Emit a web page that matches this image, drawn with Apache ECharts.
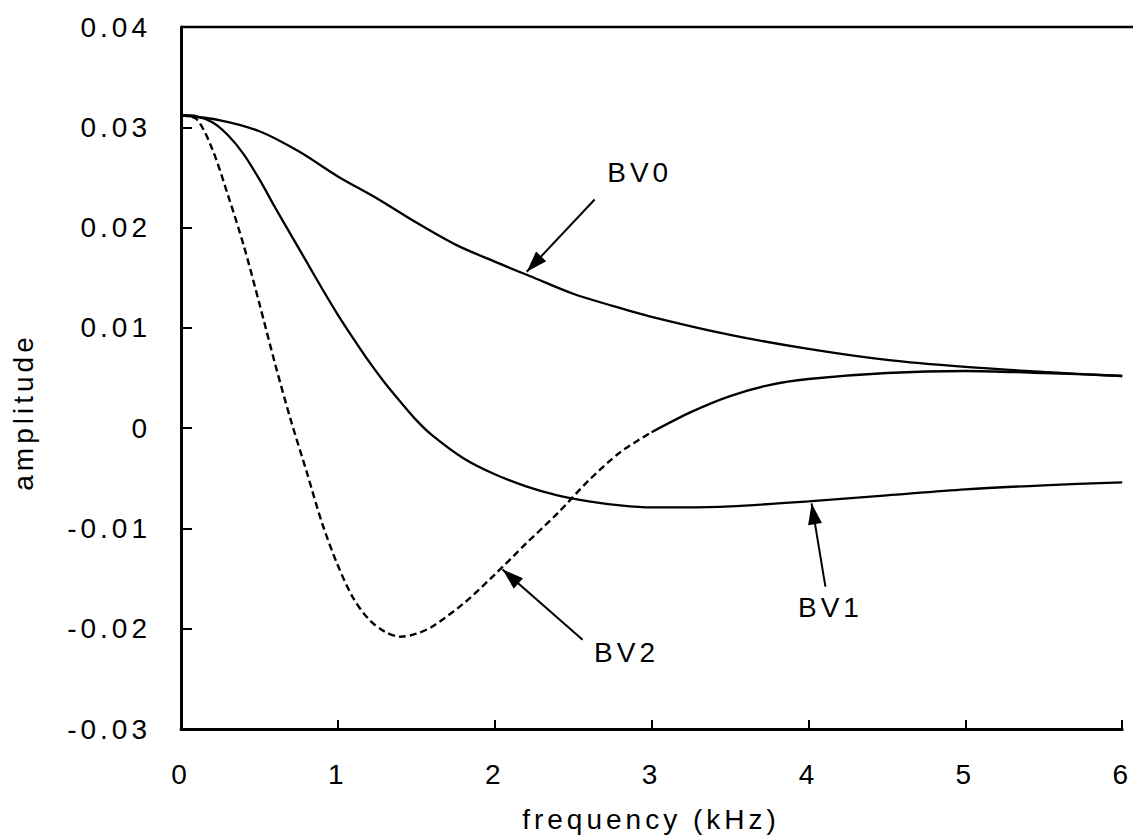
<!DOCTYPE html>
<html>
<head>
<meta charset="utf-8">
<script src="https://cdn.jsdelivr.net/npm/echarts@6/dist/echarts.min.js"></script>
<style>html,body{margin:0;padding:0;background:#fff}#c{width:1133px;height:840px}#c text{letter-spacing:4px}</style>
</head>
<body>
<div id="c"></div>
<script>
// frequency (kHz), amplitude pairs
const bv0 = [[0,0.0312],[0.25,0.0307],[0.5,0.0296],[0.75,0.0276],[1.0,0.0251],[1.25,0.0229],[1.5,0.0205],[1.75,0.0183],[2.0,0.0166],[2.25,0.0150],[2.5,0.0134],[2.75,0.0122],[3.0,0.0111],[3.5,0.0093],[4.0,0.0079],[4.5,0.0068],[5.0,0.0061],[5.5,0.0056],[6.0,0.0052]];
const bv1 = [[0,0.0312],[0.1,0.0311],[0.2,0.0305],[0.3,0.0292],[0.4,0.0273],[0.5,0.0248],[0.6,0.0220],[0.7,0.0193],[0.8,0.0166],[0.9,0.0139],[1.0,0.0113],[1.1,0.0089],[1.2,0.0066],[1.3,0.0045],[1.4,0.0026],[1.5,0.0008],[1.6,-0.0007],[1.8,-0.0030],[2.0,-0.0046],[2.2,-0.0058],[2.4,-0.0067],[2.6,-0.0073],[2.8,-0.0077],[3.0,-0.0079],[3.2,-0.0079],[3.5,-0.0078],[4.0,-0.0073],[4.5,-0.0067],[5.0,-0.0061],[5.5,-0.0057],[6.0,-0.0054]];
const bv2 = [[0,0.0312],[0.1,0.0308],[0.2,0.0278],[0.3,0.0232],[0.4,0.0182],[0.5,0.0124],[0.6,0.0064],[0.7,0.0008],[0.8,-0.0043],[0.9,-0.0095],[1.0,-0.0137],[1.1,-0.0170],[1.2,-0.0191],[1.3,-0.0203],[1.4,-0.0208],[1.5,-0.0205],[1.6,-0.0198],[1.8,-0.0175],[2.0,-0.0146],[2.2,-0.0115],[2.4,-0.0085],[2.6,-0.0052],[2.8,-0.0024],[3.0,-0.0004],[3.25,0.0016],[3.5,0.0032],[3.75,0.0043],[4.0,0.0049],[4.5,0.0055],[5.0,0.0057],[5.5,0.0055],[6.0,0.0052]];
const xTicks = [0,1,2,3,4,5,6];
const yTicks = [-0.03,-0.02,-0.01,0,0.01,0.02,0.03,0.04];
const seriesNames = ['BV0','BV1','BV2'];
// annotation arrows: [from, to] and label anchor, in data units
const arrowBV0 = [[2.637,0.0228],[2.204,0.0156]];
const arrowBV1 = [[4.108,-0.0158],[4.02,-0.0075]];
const arrowBV2 = [[2.56,-0.0211],[2.05,-0.0141]];
const labelBV0 = [2.924,0.0255];
const labelBV1 = [4.14,-0.0179];
const labelBV2 = [2.84,-0.0224];

const FONT = 'Liberation Sans, Arial, sans-serif';
const FS = 28;
const chart = echarts.init(document.getElementById('c'), null, {renderer:'svg'});

function arrow(a){
  return {
    silent:true, animation:false,
    symbol:['none','path://M0,0L7,20L-7,20Z'], symbolSize:[14,21],
    symbolOffset:[[0,0],[0,10.5]],
    lineStyle:{color:'#000',width:2,type:'solid'},
    itemStyle:{color:'#000'},
    label:{show:false},
    data:[[{coord:a[0]},{coord:a[1]}]]
  };
}
function tag(pos,text){
  return {
    silent:true, animation:false,
    symbol:'circle', symbolSize:0,
    label:{show:true,position:'inside',formatter:text,color:'#000',fontSize:FS,fontFamily:FONT},
    data:[{coord:pos}]
  };
}
const splitAt = 3.0;
const bv2Dash = bv2.filter(p=>p[0]<=splitAt);
const bv2Solid = bv2.filter(p=>p[0]>=splitAt);

chart.setOption({
  animation:false,
  backgroundColor:'#fff',
  grid:{left:181,right:10,top:27,bottom:111},
  xAxis:{
    type:'value',min:0,max:6,interval:1,
    axisLine:{show:true,onZero:false,lineStyle:{color:'#000',width:3}},
    axisTick:{show:true,inside:true,length:9,lineStyle:{color:'#000',width:2}},
    splitLine:{show:false},
    axisLabel:{color:'#000',fontSize:FS,fontFamily:FONT,margin:31,
      formatter:v=>xTicks.includes(v)?String(v):''}
  },
  yAxis:{
    type:'value',min:-0.03,max:0.04,interval:0.01,
    axisLine:{show:true,onZero:false,lineStyle:{color:'#000',width:3}},
    axisTick:{show:true,inside:true,length:11,lineStyle:{color:'#000',width:2}},
    splitLine:{show:false},
    axisLabel:{color:'#000',fontSize:FS,fontFamily:FONT,margin:30,
      formatter:v=>{const r=Math.round(v*100)/100; return r===0?'0':r.toFixed(2);}}
  },
  graphic:[
    {type:'line',shape:{x1:181,y1:27,x2:1133,y2:27},style:{stroke:'#000',lineWidth:2.5},silent:true},
    {type:'text',x:23,y:412,rotation:Math.PI/2,
      style:{text:'amplitude',fill:'#000',font:FS+'px '+FONT,align:'center',verticalAlign:'middle'}},
    {type:'text',x:651,y:819,
      style:{text:'frequency (kHz)',fill:'#000',font:FS+'px '+FONT,align:'center',verticalAlign:'middle'}}
  ],
  series:[
    {name:seriesNames[0],type:'line',data:bv0,smooth:0.3,showSymbol:false,
      lineStyle:{color:'#000',width:2.3},markLine:arrow(arrowBV0),markPoint:tag(labelBV0,seriesNames[0])},
    {name:seriesNames[1],type:'line',data:bv1,smooth:0.3,showSymbol:false,
      lineStyle:{color:'#000',width:2.3},markLine:arrow(arrowBV1),markPoint:tag(labelBV1,seriesNames[1])},
    {name:seriesNames[2],type:'line',data:bv2Dash,smooth:0.3,showSymbol:false,
      lineStyle:{color:'#000',width:2.4,type:[7,4]},markLine:arrow(arrowBV2),markPoint:tag(labelBV2,seriesNames[2])},
    {name:seriesNames[2]+' ',type:'line',data:bv2Solid,smooth:0.3,showSymbol:false,
      lineStyle:{color:'#000',width:2.3}}
  ]
});
</script>
</body>
</html>
